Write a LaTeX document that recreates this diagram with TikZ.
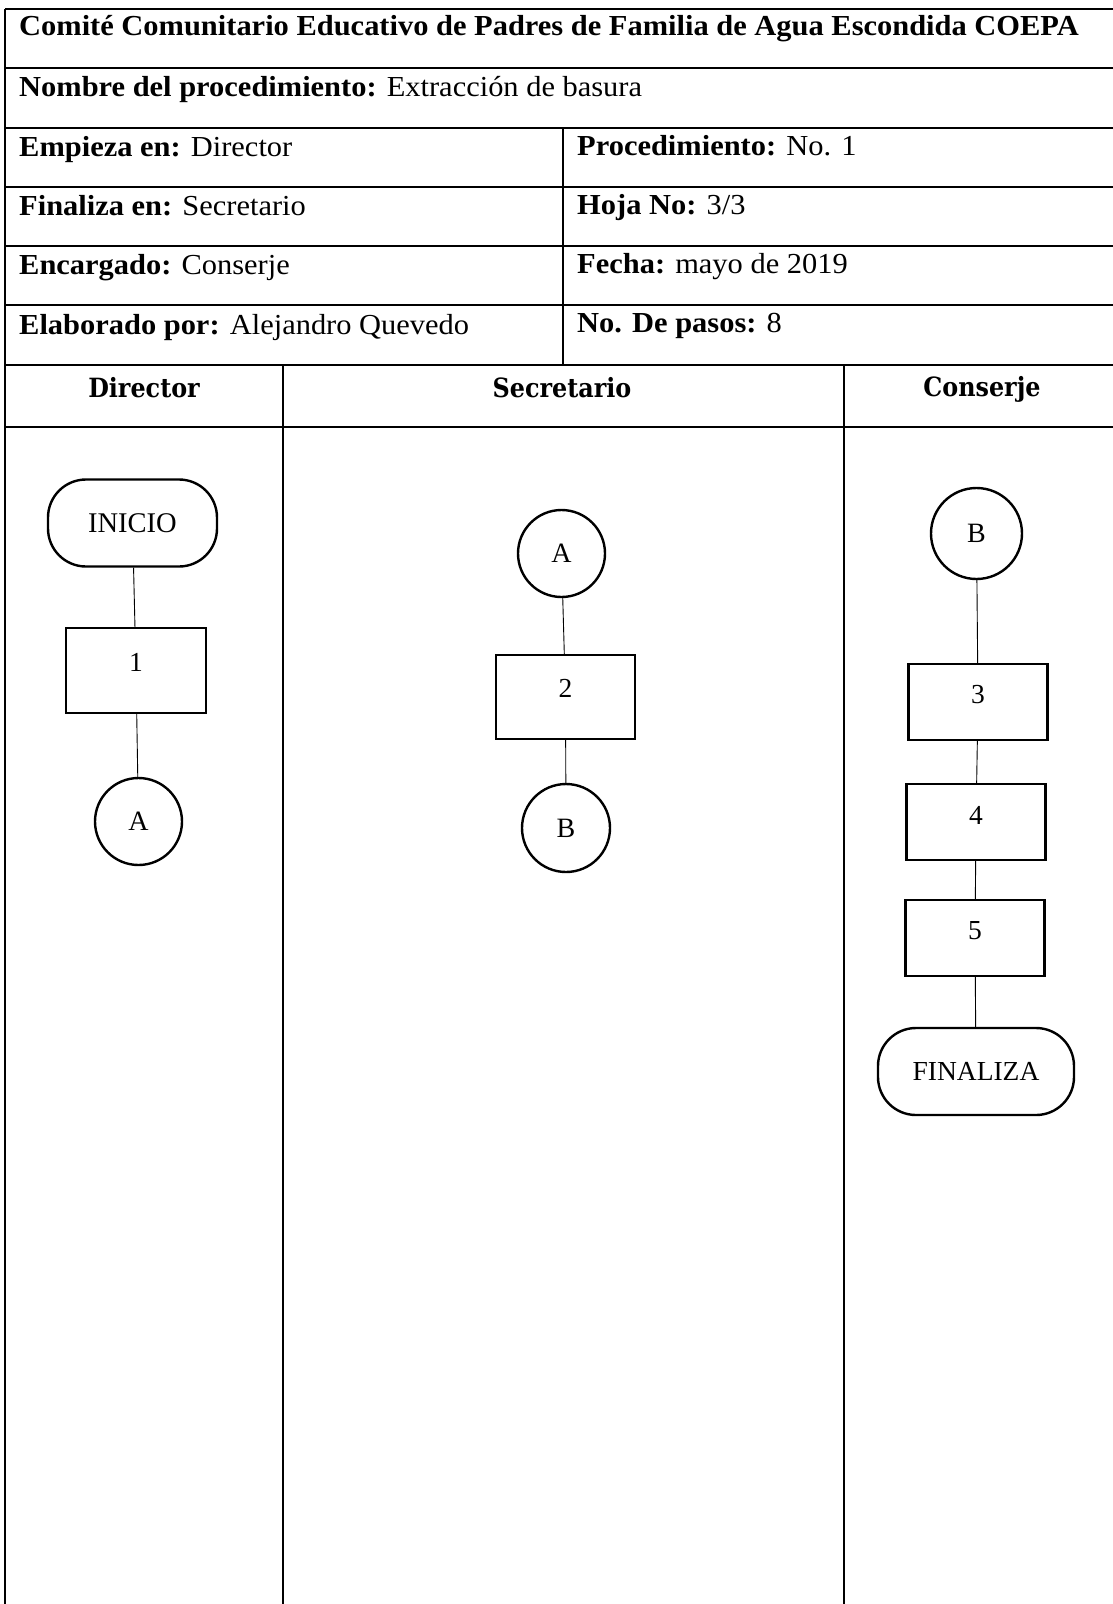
\documentclass[tikz,border=0pt]{standalone}
\usepackage{fontspec}
\setmainfont{Liberation Serif}
\newfontfamily\tblfont[FakeStretch=1.05]{Liberation Serif}
\newfontfamily\hdrfont[FakeStretch=0.9]{DejaVu Serif}
\begin{document}
\begin{tikzpicture}[x=1pt,y=-1pt,
  tline/.style={line width=1.3pt},
  conn/.style={line width=0.9pt},
  box/.style={draw,line width=2.4pt,minimum width=139pt,minimum height=84pt,inner sep=0pt},
  circ/.style={draw,circle,line width=2.4pt,minimum size=87pt,inner sep=0pt,font=\fontsize{28}{28}\selectfont},
  term/.style={draw,rounded corners=38pt,line width=2.4pt,minimum height=87pt,inner sep=0pt,font=\fontsize{28.5}{29}\selectfont},
  num/.style={font=\fontsize{27.5}{28}\selectfont,inner sep=0pt},
  cell/.style={anchor=base west,inner sep=0pt,font=\tblfont\fontsize{29}{30}\selectfont},
  lane/.style={anchor=base,inner sep=0pt,font=\hdrfont\bfseries\fontsize{26.5}{27}\selectfont}
]
\useasboundingbox (0,0) rectangle (1112,1604);
% table frame
\foreach \yy in {9,68,128,187,246,305,365,427}
  \draw[tline] (5,\yy) -- (1113,\yy);
\draw[tline] (5,9) -- (5,1605);
\draw[tline] (563,128) -- (563,365);
\draw[tline] (283,365) -- (283,1605);
\draw[tline] (844,365) -- (844,1605);
% header texts
\node[cell] (t0) at (19,35) {\bfseries Comité Comunitario Educativo de Padres de Familia de Agua Escondida COEPA};
\node[cell] (t1) at (19,96.5) {\textbf{Nombre del procedimiento:} Extracción de basura};
\node[cell] (t2) at (19,156) {\textbf{Empieza en:} Director};
\node[cell] (t3) at (19,215) {\textbf{Finaliza en:} Secretario};
\node[cell] (t4) at (19,274) {\textbf{Encargado:} Conserje};
\node[cell] (t5) at (19,334) {\textbf{Elaborado por:} Alejandro Quevedo};
\node[cell] (r2) at (577,155) {\textbf{Procedimiento:} No. 1};
\node[cell] (r3) at (577,214) {\textbf{Hoja No:} 3/3};
\node[cell] (r4) at (577,273) {\textbf{Fecha:} mayo de 2019};
\node[cell] (r5) at (577,332) {\textbf{No. De pasos:} 8};
% lane headers
\node[lane] (l1) at (144,397) {Director};
\node[lane] (l2) at (562,397) {Secretario};
\node[lane] (l3) at (982,396) {Conserje};
% Director lane
\node[term,minimum width=169pt] (ini) at (132.5,523) {INICIO};
\node[box,minimum width=140pt,minimum height=85pt] (b1) at (136,670.5) {};
\node[num] (n1) at ([yshift=8.5pt]b1.center) {1};
\node[circ] (ca1) at (138.5,821.5) {A};
% Secretario lane
\node[circ] (ca2) at (561.5,553.5) {A};
\node[box] (b2) at (565.5,697) {};
\node[num] (n2) at ([yshift=9pt]b2.center) {2};
\node[circ,minimum size=88pt] (cb2) at (566,828) {B};
% Conserje lane
\node[circ,minimum size=91pt] (cb3) at (976.5,533.5) {B};
\node[box,minimum height=76pt] (b3) at (978,702) {};
\node[num] (n3) at ([yshift=7pt]b3.center) {3};
\node[box,minimum height=76pt] (b4) at (976,822) {};
\node[num] (n4) at ([yshift=7pt]b4.center) {4};
\node[box,minimum height=76pt] (b5) at (975,938) {};
\node[num] (n5) at ([yshift=7pt]b5.center) {5};
\node[term,minimum width=196pt,font=\fontsize{27.5}{28}\selectfont] (fin) at (976,1071.5) {FINALIZA};
% connectors
\draw[conn] (ini) -- (b1);
\draw[conn] (b1) -- (ca1);
\draw[conn] (ca2) -- (b2);
\draw[conn] (b2) -- (cb2);
\draw[conn] (cb3) -- (b3);
\draw[conn] (b3) -- (b4);
\draw[conn] (b4) -- (b5);
\draw[conn] (b5) -- (fin);
\end{tikzpicture}
\end{document}
